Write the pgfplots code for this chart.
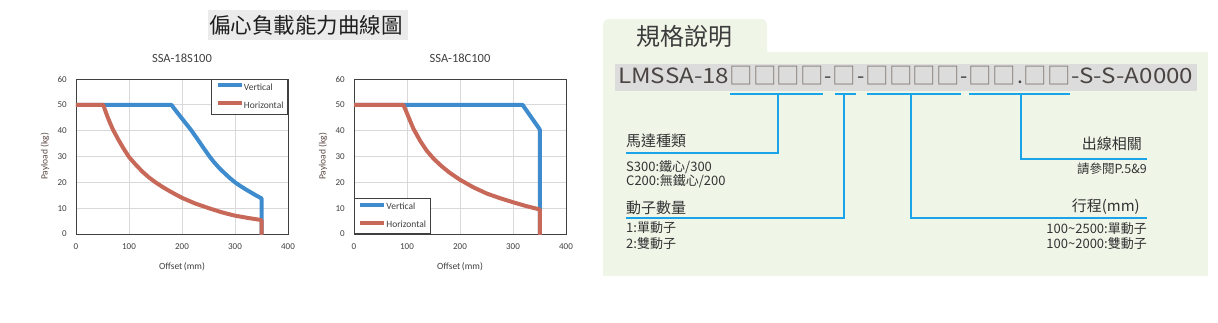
\documentclass[border=0pt]{standalone}
\usepackage{pgfplots}
\pgfplotsset{compat=1.18}
\usepackage{fontspec}
\setmainfont{Carlito}
\newfontfamily\cjk{Noto Sans CJK TC}
\definecolor{vblue}{RGB}{62,140,205}
\definecolor{hred}{RGB}{199,104,89}
\definecolor{txt}{HTML}{404040}
\definecolor{ylab}{HTML}{5B4A45}
\definecolor{gridc}{HTML}{D9D9D9}
\definecolor{panel}{HTML}{EFF6E8}
\definecolor{codebg}{HTML}{DCDCDC}
\definecolor{lblue}{HTML}{1AA3E8}
\definecolor{boxc}{HTML}{857B77}
\definecolor{codetxt}{HTML}{4A4543}
\definecolor{titlebg}{HTML}{EBEBEB}
\definecolor{ptxt}{HTML}{333333}
\definecolor{hdtxt}{HTML}{3C3C3C}
\definecolor{ttxt}{HTML}{1F1F1F}

\newcommand\B{\makebox[23.5pt]{\raisebox{-1.5pt}{\fontsize{23.5}{26}\selectfont\color{boxc}□}}}
\newcommand\D[2][-]{\makebox[#2pt]{#1}}

\pgfplotsset{
  loadchart/.style={
    scale only axis, width=212pt, height=155pt,
    xmin=0, xmax=400, ymin=0, ymax=60,
    xtick={0,100,200,300,400}, ytick={0,10,20,30,40,50,60},
    grid=major, major grid style={gridc, line width=0.9pt},
    axis line style={draw=txt, line width=0.9pt},
    major tick length=0pt,
    /pgf/number format/assume math mode=true,
    tick label style={font=\fontsize{9}{10}\selectfont, text=txt},
    x tick label style={anchor=center, yshift=-13pt},
    y tick label style={anchor=east, inner sep=0pt, xshift=-9pt},
    title style={at={(axis description cs:0.5,1)}, anchor=center, yshift=15pt,
      font=\fontsize{12.5}{14}\selectfont, text=txt},
    xlabel style={at={(axis description cs:0.5,0)}, anchor=center, yshift=-33pt,
      font=\fontsize{9.5}{11}\selectfont, text=txt},
    ylabel style={at={(axis description cs:0,0.5)}, anchor=center, yshift=31pt,
      font=\fontsize{9.5}{11}\selectfont, text=ylab},
    xlabel={Offset\,(mm)}, ylabel={Payload (kg)},
    legend style={draw=txt, line width=0.9pt, fill=white, inner xsep=4pt, inner ysep=4pt,
      font=\fontsize{9.5}{11}\selectfont, text=txt, row sep=9pt, column sep=0pt,
      nodes={inner sep=0pt, text height=7pt, text depth=2pt}},
    legend cell align=left,
    legend image code/.code={\draw[#1, line width=4pt, line cap=butt] (0pt,2.5pt) -- (24pt,2.5pt);},
    every axis plot/.append style={line width=4pt, line join=round, line cap=round},
  }
}

\begin{document}
\begin{tikzpicture}
\path[use as bounding box] (0pt,0pt) rectangle (1218pt,-322pt);
\fill[white] (0pt,0pt) rectangle (1218pt,-322pt);

% main title
\fill[titlebg] (208pt,-10pt) rectangle (408pt,-40pt);
\node[font=\cjk\fontsize{21.5}{24}\selectfont, text=ttxt, inner sep=0pt] at (306pt,-25.5pt) {偏心負載能力曲線圖};

% chart 1
\begin{axis}[loadchart, at={(76pt,-234pt)}, anchor=south west, title={SSA-18S100},
  legend style={at={(1,1)}, anchor=north east}]
\addplot[vblue] coordinates {(0,50) (180,50) (190,47.3) (200,44.7) (210,42.1) (218,40)
  (230,36.5) (240,33.5) (252,30) (260,27.9) (270,25.6) (280,23.6) (290,21.7) (300,20)
  (310,18.6) (320,17.3) (330,16.1) (340,14.9) (350,13.8) (350,0)};
\addlegendentry{Vertical}
\addplot[hred] coordinates {(0,50) (51.5,50) (55,47.9) (60,45.1) (65,42.6) (70,40.3)
  (80,36.5) (90,33) (100,29.8) (112,27) (125,24.2) (137,22) (150,20) (165,18) (180,16.2)
  (200,14.0) (225,11.8) (252,9.9) (275,8.4) (300,7.1) (325,6.2) (350,5.4) (350,0)};
\addlegendentry{Horizontal}
\end{axis}

% chart 2
\begin{axis}[loadchart, at={(354pt,-234pt)}, anchor=south west, title={SSA-18C100},
  legend style={at={(0,0)}, anchor=south west}]
\addplot[vblue] coordinates {(0,50) (318,50) (350.5,40.5) (350.5,0)};
\addlegendentry{Vertical}
\addplot[hred] coordinates {(0,50) (93,50) (97,48.2) (103,45.2) (112,40.8) (125,36)
  (137,32.3) (150,29.2) (165,26.3) (180,23.8) (200,21) (225,18.1) (250,15.7) (275,13.9)
  (300,12.3) (325,10.8) (350.5,9.5) (350.5,0)};
\addlegendentry{Horizontal}
\end{axis}

% right panel
\begin{scope}[x=1pt, y=-1pt]
\fill[panel, rounded corners=6pt] (603,60) rectangle (767,19);
\fill[panel] (603,52) rectangle (1208,276);
\node[font=\cjk\fontsize{24}{28}\selectfont, text=hdtxt, inner sep=0pt] at (684,36) {規格說明};
\fill[codebg] (615,64) rectangle (1197,91);
\node[anchor=base west, inner sep=0pt, font=\cjk\fontsize{21}{24}\selectfont, text=codetxt,
  xscale=1.15, transform shape] at (618,83) {LMSSA-18};
\node[anchor=base west, inner sep=0pt, font=\cjk\fontsize{21}{24}\selectfont, text=codetxt]
  at (729.75,83) {\B\B\B\B\D{9}\B\D{9.5}\B\B\B\B\D{9}\B\B\D[.]{8}\B\B};
\node[anchor=base west, inner sep=0pt, font=\cjk\fontsize{21}{24}\selectfont, text=codetxt,
  xscale=1.15, transform shape] at (1071,83) {-S-S-A0000};
% underlines
\draw[lblue, line width=2.6pt] (730,94) -- (823,94);
\draw[lblue, line width=2.6pt] (835,94) -- (856,94);
\draw[lblue, line width=2.6pt] (867,94) -- (961,94);
\draw[lblue, line width=2.6pt] (969,94) -- (1070,94);
\draw[lblue, line width=1.8pt] (778,94) -- (778,153) -- (626,153);
\draw[lblue, line width=1.8pt] (844,94) -- (844,218) -- (626,218);
\draw[lblue, line width=1.8pt] (911,94) -- (911,218) -- (1147,218);
\draw[lblue, line width=1.8pt] (1021,94) -- (1021,159) -- (1147,159);
% labels
\begin{scope}[every node/.style={inner sep=0pt, text=ptxt}]
\node[anchor=west, font=\cjk\fontsize{15}{18}\selectfont] at (626,141) {馬達種類};
\node[anchor=west, font=\cjk\fontsize{13}{15}\selectfont] at (626,167) {S300:鐵心/300};
\node[anchor=west, font=\cjk\fontsize{13}{15}\selectfont] at (626,181) {C200:無鐵心/200};
\node[anchor=west, font=\cjk\fontsize{15}{18}\selectfont] at (626,208) {動子數量};
\node[anchor=west, font=\cjk\fontsize{13}{15}\selectfont] at (626,228) {1:單動子};
\node[anchor=west, font=\cjk\fontsize{13}{15}\selectfont] at (626,244) {2:雙動子};
\node[anchor=east, font=\cjk\fontsize{15}{18}\selectfont] at (1142,144) {出線相關};
\node[anchor=east, font=\cjk\fontsize{12.5}{15}\selectfont] at (1147,169) {請參閱P.5\&9};
\node[anchor=east, font=\cjk\fontsize{15}{18}\selectfont] at (1140,207) {行程(mm)};
\node[anchor=east, font=\cjk\fontsize{13}{15}\selectfont] at (1147,229) {100\textasciitilde2500:單動子};
\node[anchor=east, font=\cjk\fontsize{13}{15}\selectfont] at (1147,244) {100\textasciitilde2000:雙動子};
\end{scope}
\end{scope}
\end{tikzpicture}
\end{document}
